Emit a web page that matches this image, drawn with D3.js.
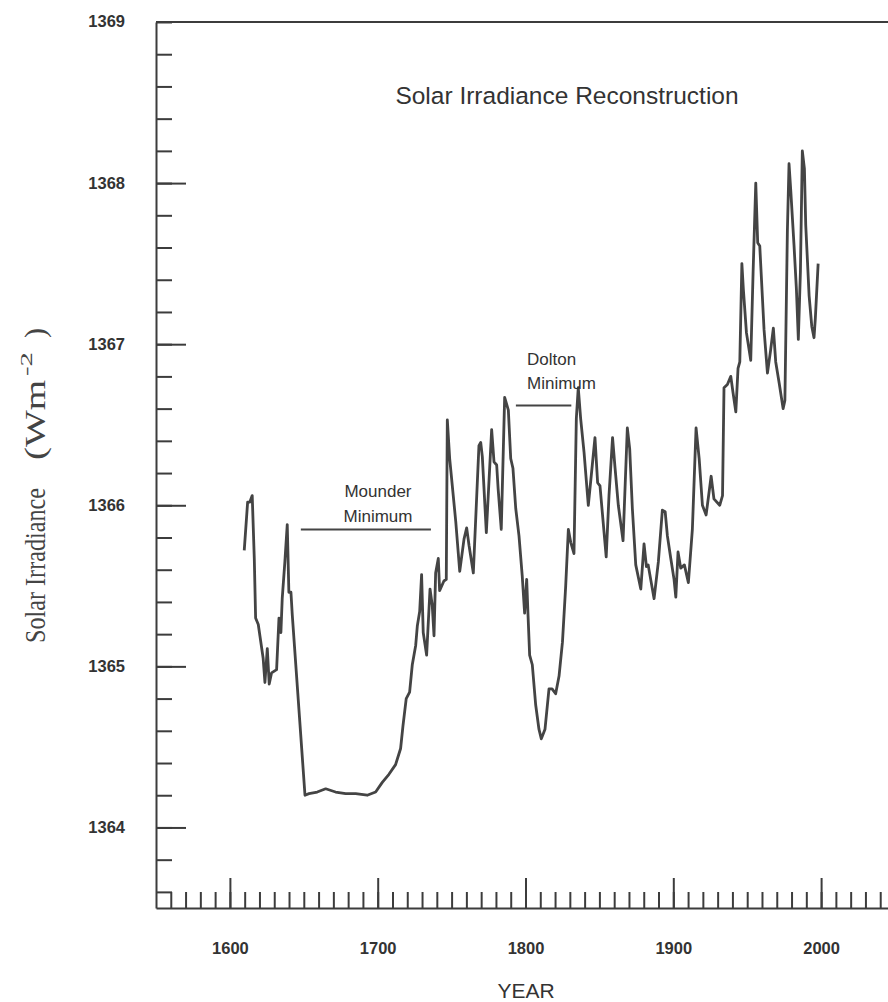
<!DOCTYPE html>
<html>
<head>
<meta charset="utf-8">
<script src="https://cdn.jsdelivr.net/npm/d3@7"></script>
<style>
  body { margin: 0; background: #fff; }
</style>
</head>
<body>
<div id="chart"></div>
<script>
// reconstructed series (year, W/m^2)
var years = [1609.7, 1612.0, 1613.5, 1615.1, 1616.5, 1617.4, 1619.2, 1622.5, 1623.7, 1625.3,
  1626.6, 1628.2, 1631.6, 1633.2, 1634.5, 1635.4, 1637.2, 1638.8, 1639.9, 1641.3,
  1642.2, 1650.8, 1653.5, 1659.1, 1664.8, 1671.5, 1678.3, 1685.1, 1692.9, 1698.6,
  1703.1, 1707.6, 1712.1, 1715.5, 1717.1, 1719.3, 1721.6, 1723.4, 1725.7, 1726.8,
  1728.4, 1729.7, 1730.8, 1733.1, 1735.4, 1736.9, 1738.1, 1739.2, 1741.0, 1741.9,
  1744.8, 1746.4, 1747.1, 1748.7, 1752.8, 1755.5, 1758.4, 1760.2, 1761.8, 1764.7,
  1768.5, 1769.7, 1770.8, 1773.5, 1777.1, 1778.7, 1780.5, 1781.5, 1783.6, 1785.9,
  1788.4, 1790.0, 1791.5, 1793.4, 1795.6, 1797.8, 1799.4, 1800.8, 1801.7, 1802.8,
  1804.6, 1806.9, 1809.1, 1810.7, 1813.2, 1815.9, 1818.0, 1820.4, 1822.7, 1825.0,
  1827.2, 1829.0, 1830.6, 1832.8, 1834.4, 1835.7, 1837.3, 1839.6, 1842.5, 1845.2,
  1847.0, 1848.8, 1850.4, 1854.6, 1856.5, 1858.9, 1860.6, 1862.8, 1866.0, 1868.9,
  1870.5, 1872.3, 1874.6, 1878.0, 1880.2, 1881.8, 1883.0, 1884.7, 1887.0, 1889.9,
  1892.6, 1894.5, 1896.0, 1898.3, 1900.5, 1901.7, 1903.2, 1905.0, 1907.5, 1910.2,
  1912.9, 1915.4, 1917.5, 1919.7, 1922.2, 1925.6, 1927.5, 1931.4, 1933.3, 1934.3,
  1936.6, 1938.9, 1940.4, 1942.3, 1943.8, 1945.0, 1946.4, 1947.4, 1949.5, 1952.4,
  1954.0, 1955.8, 1957.1, 1958.5, 1961.4, 1963.7, 1965.8, 1967.7, 1969.3, 1971.6,
  1974.3, 1975.5, 1977.2, 1978.3, 1979.5, 1981.7, 1983.3, 1984.6, 1986.0, 1987.3,
  1988.7, 1989.6, 1991.9, 1993.7, 1995.2, 1996.1, 1998.0];

var irradiance = [1365.72, 1366.02, 1366.02, 1366.06, 1365.67, 1365.30, 1365.26, 1365.05, 1364.90, 1365.11,
  1364.89, 1364.96, 1364.98, 1365.30, 1365.21, 1365.42, 1365.65, 1365.88, 1365.46, 1365.46,
  1365.32, 1364.20, 1364.21, 1364.22, 1364.24, 1364.22, 1364.21, 1364.21, 1364.20, 1364.22,
  1364.28, 1364.33, 1364.39, 1364.49, 1364.63, 1364.80, 1364.84, 1365.01, 1365.13, 1365.25,
  1365.34, 1365.57, 1365.21, 1365.07, 1365.48, 1365.38, 1365.19, 1365.58, 1365.67, 1365.47,
  1365.53, 1365.54, 1366.53, 1366.29, 1365.90, 1365.59, 1365.79, 1365.86, 1365.75, 1365.58,
  1366.37, 1366.39, 1366.30, 1365.83, 1366.47, 1366.27, 1366.25, 1366.10, 1365.85, 1366.67,
  1366.59, 1366.29, 1366.23, 1365.98, 1365.81, 1365.56, 1365.33, 1365.54, 1365.32, 1365.07,
  1365.01, 1364.76, 1364.61, 1364.55, 1364.61, 1364.86, 1364.86, 1364.83, 1364.94, 1365.15,
  1365.50, 1365.85, 1365.77, 1365.70, 1366.54, 1366.73, 1366.54, 1366.33, 1366.00, 1366.25,
  1366.42, 1366.14, 1366.12, 1365.68, 1366.06, 1366.42, 1366.23, 1366.00, 1365.78, 1366.48,
  1366.35, 1365.98, 1365.63, 1365.48, 1365.76, 1365.62, 1365.63, 1365.54, 1365.42, 1365.65,
  1365.97, 1365.96, 1365.81, 1365.67, 1365.54, 1365.43, 1365.71, 1365.61, 1365.63, 1365.52,
  1365.85, 1366.48, 1366.29, 1366.00, 1365.94, 1366.18, 1366.04, 1366.00, 1366.06, 1366.73,
  1366.75, 1366.80, 1366.70, 1366.58, 1366.85, 1366.89, 1367.50, 1367.34, 1367.07, 1366.90,
  1367.45, 1368.00, 1367.63, 1367.61, 1367.09, 1366.82, 1366.96, 1367.10, 1366.89, 1366.76,
  1366.60, 1366.65, 1367.71, 1368.12, 1367.95, 1367.61, 1367.34, 1367.03, 1367.45, 1368.20,
  1368.09, 1367.74, 1367.30, 1367.11, 1367.04, 1367.16, 1367.50];

var yearTicks = [1600, 1700, 1800, 1900, 2000];
var valueTicks = [1364, 1365, 1366, 1367, 1368, 1369];

// annotation spans: [start year, end year, level]
var mounder = [1648, 1736, 1365.85];
var dolton = [1793.5, 1831, 1366.62];

var svg = d3.select('#chart').append('svg')
    .attr('width', 888)
    .attr('height', 1002)
    .style('font-family', '"Liberation Sans", Arial, sans-serif');

var x = d3.scaleLinear().domain([1550, 2050]).range([156, 895]);
var y = d3.scaleLinear().domain([1363.5, 1369]).range([908, 22]);

var ink = '#3c3c3c';

// frame top edge
svg.append('line')
    .attr('x1', x(1550)).attr('x2', x(2050))
    .attr('y1', y(1369)).attr('y2', y(1369))
    .attr('stroke', ink).attr('stroke-width', 2);

// minor ticks
svg.append('g')
    .attr('transform', 'translate(0,' + y(1363.5) + ')')
    .call(d3.axisBottom(x).tickValues(d3.range(1560, 2050, 10)).tickSize(-16).tickSizeOuter(0).tickFormat(''))
    .call(function(g) { g.select('.domain').remove(); });

svg.append('g')
    .attr('transform', 'translate(' + x(1550) + ',0)')
    .call(d3.axisLeft(y).tickValues(d3.range(1363.6, 1369, 0.2)).tickSize(-16).tickSizeOuter(0).tickFormat(''))
    .call(function(g) { g.select('.domain').remove(); });

// major ticks with labels
var xAxis = svg.append('g')
    .attr('transform', 'translate(0,' + y(1363.5) + ')')
    .call(d3.axisBottom(x).tickValues(yearTicks).tickSize(-30).tickSizeOuter(0).tickPadding(34).tickFormat(d3.format('d')));

var yAxis = svg.append('g')
    .attr('transform', 'translate(' + x(1550) + ',0)')
    .call(d3.axisLeft(y).tickValues(valueTicks.slice(0, 5)).tickSize(-30).tickSizeOuter(0).tickPadding(31).tickFormat(d3.format('d')));

yAxis.append('text')
    .attr('x', -31).attr('y', y(1369)).attr('dy', '0.32em')
    .attr('text-anchor', 'end')
    .text('1369');

svg.selectAll('.tick line, .domain')
    .attr('stroke', ink).attr('stroke-width', 2);

[xAxis, yAxis].forEach(function(a) {
    a.selectAll('text')
        .attr('fill', '#333')
        .style('font-size', '16.5px')
        .style('font-weight', 'bold')
        .style('font-family', '"Liberation Sans", Arial, sans-serif');
});

// series
var line = d3.line()
    .x(function(d) { return x(d[0]); })
    .y(function(d) { return y(d[1]); });

svg.append('path')
    .datum(d3.zip(years, irradiance))
    .attr('fill', 'none')
    .attr('stroke', '#444')
    .attr('stroke-width', 2.8)
    .attr('stroke-linejoin', 'round')
    .attr('d', line);

// annotations
[mounder, dolton].forEach(function(m) {
    svg.append('line')
        .attr('x1', x(m[0])).attr('x2', x(m[1]))
        .attr('y1', y(m[2])).attr('y2', y(m[2]))
        .attr('stroke', '#444').attr('stroke-width', 2);
});

var notes = svg.append('g')
    .attr('fill', '#333')
    .style('font-size', '17px');

notes.append('text').attr('x', 378).attr('y', 497).attr('text-anchor', 'middle').text('Mounder');
notes.append('text').attr('x', 378).attr('y', 522).attr('text-anchor', 'middle').text('Minimum');
notes.append('text').attr('x', 527).attr('y', 365).text('Dolton');
notes.append('text').attr('x', 527).attr('y', 389).text('Minimum');

svg.append('text')
    .attr('x', 567).attr('y', 104)
    .attr('text-anchor', 'middle')
    .attr('fill', '#333')
    .style('font-size', '24.5px')
    .text('Solar Irradiance Reconstruction');

svg.append('text')
    .attr('x', 526).attr('y', 998)
    .attr('text-anchor', 'middle')
    .attr('fill', '#333')
    .style('font-size', '21px')
    .text('YEAR');

// rotated y label, pieces placed along the vertical
var ylab = svg.append('g')
    .attr('transform', 'translate(45,0) rotate(-90)')
    .attr('fill', '#444')
    .style('font-family', '"Liberation Serif", "Times New Roman", serif');

ylab.append('text')
    .attr('x', -643).attr('y', 0)
    .attr('textLength', 155).attr('lengthAdjust', 'spacingAndGlyphs')
    .style('font-size', '30px')
    .text('Solar  Irradiance');
ylab.append('text')
    .attr('x', -460).attr('y', 0)
    .attr('textLength', 80).attr('lengthAdjust', 'spacingAndGlyphs')
    .style('font-size', '30px')
    .text('(Wm');
ylab.append('text')
    .attr('x', -376).attr('y', -13)
    .attr('textLength', 24).attr('lengthAdjust', 'spacingAndGlyphs')
    .style('font-size', '17px')
    .text('-2');
ylab.append('text')
    .attr('x', -338).attr('y', 0)
    .style('font-size', '30px')
    .text(')');
</script>
</body>
</html>
